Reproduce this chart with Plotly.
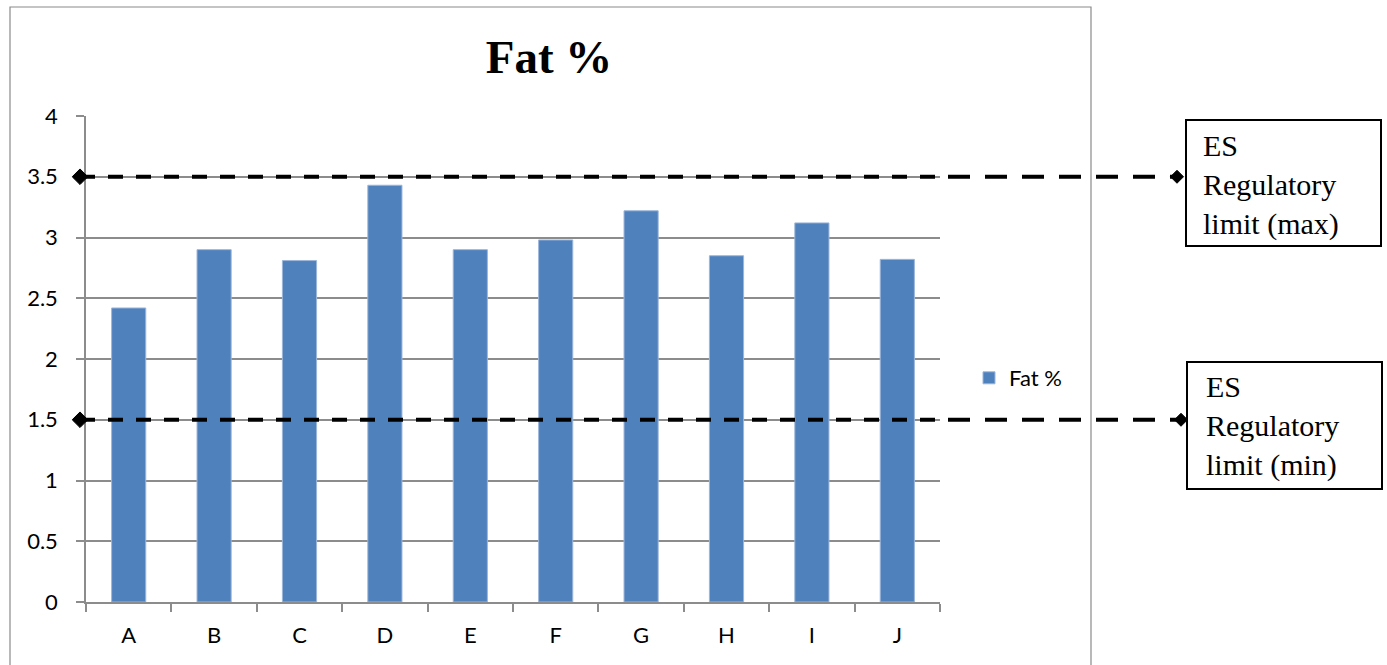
import plotly.graph_objects as go

# ---- data ----
categories = ["A", "B", "C", "D", "E", "F", "G", "H", "I", "J"]
fat_pct = [2.42, 2.90, 2.81, 3.43, 2.90, 2.98, 3.22, 2.85, 3.12, 2.82]
y_tick_values = [0, 0.5, 1, 1.5, 2, 2.5, 3, 3.5, 4]
limit_values = [3.5, 1.5]
limit_labels = ["ES<br>Regulatory<br>limit (max)", "ES<br>Regulatory<br>limit (min)"]

# ---- page geometry (pixels) ----
W, H = 1387, 665
PLOT_L, PLOT_R, PLOT_T, PLOT_B = 86, 940, 116, 602


def fx(p):
    return p / W


def fy(p):
    return 1 - p / H


GRID = "#8c8c8c"
BAR = "#4F81BD"
TICK_FONT = dict(family="Lato", size=22, color="black")
BOX_FONT = dict(family="Liberation Serif", size=30, color="black")

fig = go.Figure()

fig.add_trace(go.Bar(
    x=categories, y=fat_pct, name="Fat %",
    marker=dict(color=BAR, line=dict(color="#9db6da", width=1)),
    xaxis="x", yaxis="y", hoverinfo="x+y",
))

# dashed limit lines with diamond end markers, drawn on a full-width overlay axis
line_ends = [1177, 1181]
for val, x_end in zip(limit_values, line_ends):
    fig.add_trace(go.Scatter(
        x=[80, PLOT_R], y=[val, val], mode="lines",
        line=dict(color="black", width=4, dash="15px,13px"),
        xaxis="x2", yaxis="y2", showlegend=False, hoverinfo="skip",
    ))
    fig.add_trace(go.Scatter(
        x=[948, x_end], y=[val, val], mode="lines",
        line=dict(color="black", width=4, dash="22px,15px"),
        xaxis="x2", yaxis="y2", showlegend=False, hoverinfo="skip",
    ))
    fig.add_trace(go.Scatter(
        x=[80, x_end], y=[val, val], mode="markers",
        marker=dict(symbol="diamond", size=[12, 10], color="black",
                    opacity=1, line=dict(color="black", width=1)),
        xaxis="x2", yaxis="y2", showlegend=False, hoverinfo="skip",
        cliponaxis=False,
    ))

shapes = [
    # outer chart frame
    dict(type="rect", xref="paper", yref="paper",
         x0=fx(10), x1=fx(1091), y0=fy(700), y1=fy(7),
         line=dict(color="#8a8a8a", width=1.2), fillcolor="rgba(0,0,0,0)", layer="below"),
    # label boxes
    dict(type="rect", xref="paper", yref="paper",
         x0=fx(1186), x1=fx(1381), y0=fy(246), y1=fy(120),
         line=dict(color="black", width=2), fillcolor="white"),
    dict(type="rect", xref="paper", yref="paper",
         x0=fx(1187), x1=fx(1382), y0=fy(489), y1=fy(362),
         line=dict(color="black", width=2), fillcolor="white"),
]

annotations = [
    dict(text=limit_labels[0], xref="paper", yref="paper",
         x=fx(1201), y=fy(127), xanchor="left", yanchor="top", align="left",
         showarrow=False, font=BOX_FONT),
    dict(text=limit_labels[1], xref="paper", yref="paper",
         x=fx(1204), y=fy(368), xanchor="left", yanchor="top", align="left",
         showarrow=False, font=BOX_FONT),
]

fig.update_layout(
    width=W, height=H, autosize=False,
    margin=dict(l=0, r=0, t=0, b=0, pad=0, autoexpand=False),
    paper_bgcolor="white", plot_bgcolor="rgba(0,0,0,0)",
    bargap=0.6,
    title=dict(text="Fat %", xref="paper", yref="paper",
               x=fx(549), y=fy(57), xanchor="center", yanchor="middle",
               font=dict(family="Liberation Serif", size=47, color="black", weight="bold")),
    showlegend=True,
    legend=dict(x=fx(969), y=fy(378), xanchor="left", yanchor="middle",
                font=dict(family="Lato", size=22, color="black"),
                bgcolor="rgba(0,0,0,0)", borderwidth=0),
    xaxis=dict(
        domain=[fx(PLOT_L), fx(PLOT_R)], type="category",
        showline=True, linecolor=GRID, linewidth=1.5,
        ticks="outside", tickson="boundaries", ticklen=8, tickcolor=GRID, tickwidth=1.5,
        showgrid=False, tickfont=TICK_FONT, ticklabelstandoff=13,
        anchor="y", automargin=False,
    ),
    yaxis=dict(
        domain=[fy(PLOT_B), fy(PLOT_T)], range=[0, 4],
        tickvals=y_tick_values,
        showline=True, linecolor=GRID, linewidth=1.5,
        ticks="outside", ticklen=8, tickcolor=GRID, tickwidth=1.5,
        showgrid=True, gridcolor=GRID, gridwidth=1.5, zeroline=False,
        tickfont=TICK_FONT, ticklabelstandoff=14,
        anchor="x", automargin=False,
    ),
    xaxis2=dict(domain=[0, 1], range=[0, W], visible=False, anchor="y2"),
    yaxis2=dict(domain=[fy(PLOT_B), fy(PLOT_T)], range=[0, 4], visible=False, anchor="x2"),
    shapes=shapes,
    annotations=annotations,
)

fig.write_html("out.html")
